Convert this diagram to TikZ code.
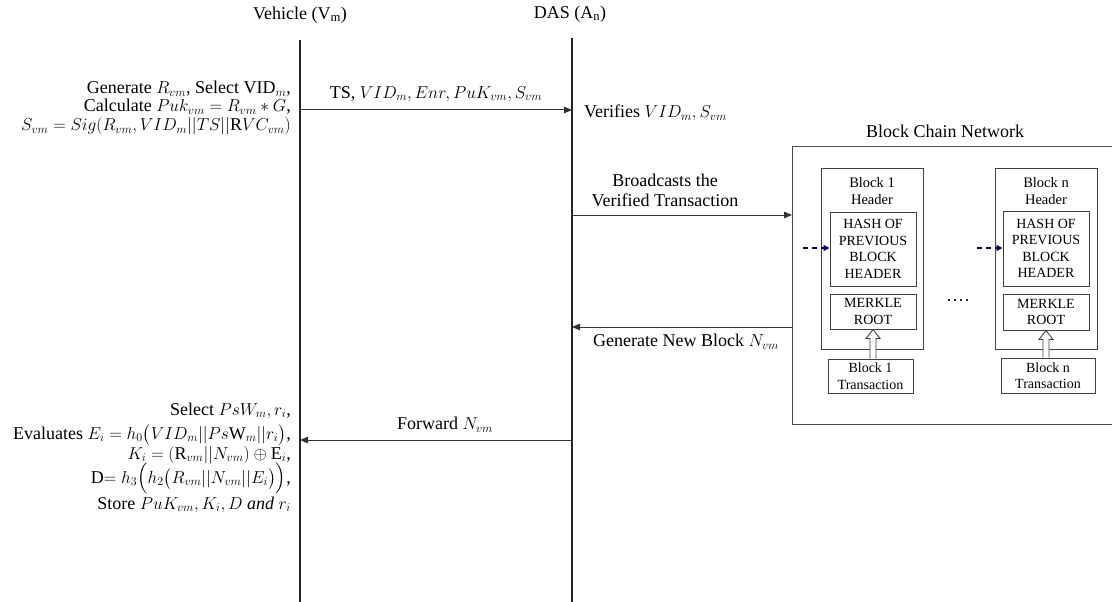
\documentclass[tikz,border=0pt]{standalone}
\usepackage{amsmath}
\usepackage{fontspec}
\setmainfont{Liberation Serif}
\usetikzlibrary{arrows.meta,calc}
\begin{document}
\begin{tikzpicture}[x=1pt,y=-1pt,
  txt/.style={font=\fontsize{18}{20}\selectfont, inner sep=0pt},
  lhs/.style={txt, anchor=base east},
  small/.style={font=\fontsize{14.5}{17}\selectfont, inner sep=0pt, align=center},
  life/.style={line width=1.4pt, draw=black!85},
  msg/.style={line width=1pt, draw=black!80, -{Triangle[length=8pt,width=6.5pt]}},
  frame/.style={draw=black!70, line width=1pt},
  inner/.style={draw=black!75, line width=1pt, fill=white, inner sep=0pt, align=center,
                font=\fontsize{14}{16.5}\selectfont},
  link/.style={draw=blue!30!black, line width=1.3pt, dash pattern=on 5pt off 4pt,
               -{Triangle[length=6pt,width=6pt]}},
  feed/.style={draw=black!75, line width=0.9pt, fill=white},
]
\clip (0,0) rectangle (1112,602);

% participants
\node[txt] (veh) at (300,15) {Vehicle (V$_\mathrm{m}$)};
\node[txt] (das) at (570,14) {DAS (A$_\mathrm{n}$)};
\coordinate (vtop) at (300,40);  \coordinate (vbot) at (300,602);
\coordinate (dtop) at (572,38);  \coordinate (dbot) at (572,602);
\draw[life] (vtop) -- (vbot);
\draw[life] (dtop) -- (dbot);

% registration request
\node[lhs] (reg1) at (291,94)  {Generate $R_{vm}$, Select VID$_m$,};
\node[lhs] (reg2) at (291,112) {Calculate $Puk_{vm}=R_{vm}*G$,};
\node[lhs] (reg3) at (291,131) {$S_{vm}=Sig(R_{vm},VID_m||TS||\mathrm{R}VC_{vm})$};
\coordinate (v1) at (300,110); \coordinate (d1) at (572,110);
\draw[msg] (v1) -- (d1);
\node[txt] (m1) at (436,94) {TS, $VID_m, Enr, PuK_{vm}, S_{vm}$};
\node[txt, anchor=west] (ver) at (584,113) {Verifies $VID_m, S_{vm}$};

% block chain network
\node[txt] (bcnt) at (945,131) {Block Chain Network};
\node[frame, minimum width=340pt, minimum height=278pt, anchor=north west, inner sep=0pt]
  (bcn) at (792,146) {};

\coordinate (d2) at (572,215); \coordinate (b2) at (792,215);
\draw[msg] (d2) -- (b2);
\node[txt, align=center] (m2) at (665,190) {Broadcasts the\\Verified Transaction};

\coordinate (b3) at (792,327); \coordinate (d3) at (572,327);
\draw[msg] (b3) -- (d3);
\node[txt] (m3) at (686,342) {Generate New Block $N_{vm}$};

% block 1
\node[inner, minimum width=102pt, minimum height=181pt, anchor=north west] (blk1) at (821,168) {};
\node[small] (h1) at (872,191) {Block 1\\Header};
\node[inner, minimum width=86pt, minimum height=74pt] (hash1) at (873,249)
  {HASH OF\\PREVIOUS\\BLOCK\\HEADER};
\node[inner, minimum width=86pt, minimum height=35pt] (mk1) at (873,311.5) {MERKLE\\ROOT};
\node[inner, minimum width=85pt, minimum height=34pt] (tr1) at (870.5,376)
  {Block 1\\Transaction};
\coordinate (in1) at (803,248);
\draw[link] (in1) -- (hash1.west |- in1);
\draw[feed] ($(tr1.north -| mk1.south)+(-3,0)$) -- ($(mk1.south)+(-3,9)$) -- ++(-4,0)
  -- (mk1.south) -- ($(mk1.south)+(7,9)$) -- ++(-4,0) -- ($(tr1.north -| mk1.south)+(3,0)$);

% continuation
\node[txt] (dots) at (958,303) {\textperiodcentered\textperiodcentered\textperiodcentered\textperiodcentered};

% block n
\node[inner, minimum width=102pt, minimum height=181pt, anchor=north west] (blkn) at (995,168) {};
\node[small] (hn) at (1046,191) {Block n\\Header};
\node[inner, minimum width=86pt, minimum height=75pt] (hashn) at (1046,248.5)
  {HASH OF\\PREVIOUS\\BLOCK\\HEADER};
\node[inner, minimum width=86pt, minimum height=36pt] (mkn) at (1046,312) {MERKLE\\ROOT};
\node[inner, minimum width=94pt, minimum height=35pt] (trn) at (1048,375.5)
  {Block n\\Transaction};
\coordinate (inn) at (977,248);
\draw[link] (inn) -- (hashn.west |- inn);
\draw[feed] ($(trn.north -| mkn.south)+(-3,0)$) -- ($(mkn.south)+(-3,9)$) -- ++(-4,0)
  -- (mkn.south) -- ($(mkn.south)+(7,9)$) -- ++(-4,0) -- ($(trn.north -| mkn.south)+(3,0)$);

% key derivation
\coordinate (d4) at (572,440); \coordinate (v4) at (300,440);
\draw[msg] (d4) -- (v4);
\node[txt] (m4) at (445,425) {Forward $N_{vm}$};
\node[lhs] (st1) at (291,415) {Select $PsW_m, r_i$,};
\node[lhs] (st2) at (291,439) {Evaluates $E_i=h_0\big(VID_m||Ps\mathrm{W}_m||r_i\big)$,};
\node[lhs] (st3) at (291,459) {$K_i=(\mathrm{R}_{vm}||N_{vm})\oplus\mathrm{E}_i$,};
\node[lhs] (st4) at (291,483) {D$=h_3\Big(h_2\big(R_{vm}||N_{vm}||E_i\big)\Big)$,};
\node[lhs] (st5) at (291,509) {Store $PuK_{vm}, K_i, D$ \textit{and} $r_i$};
\end{tikzpicture}
\end{document}
